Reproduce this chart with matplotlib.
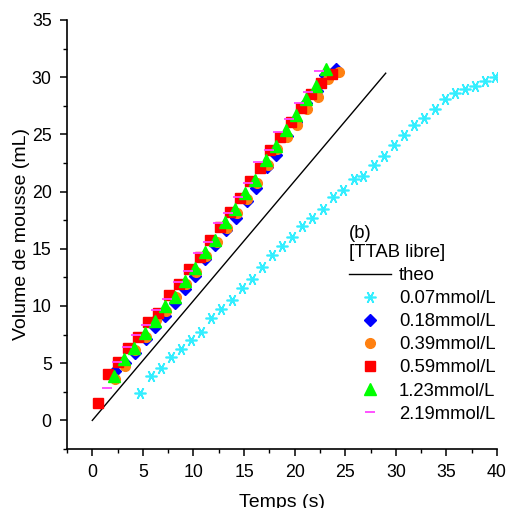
import matplotlib
matplotlib.use("Agg")
import matplotlib.pyplot as plt
from matplotlib.ticker import MultipleLocator

plt.rcParams['font.family'] = ['Liberation Sans', 'DejaVu Sans']

theo_t = [0, 29.0]
theo_v = [0, 30.35]

c007_t = [4.75, 5.77, 6.76, 7.75, 8.74, 9.72, 10.74, 11.77, 12.76, 13.78, 14.80, 15.81,
          16.82, 17.80, 18.79, 19.78, 20.77, 21.76, 22.78, 23.80, 24.79, 25.82, 26.80, 27.82,
          28.81, 29.80, 30.82, 31.81, 32.80, 33.83, 34.82, 35.81, 36.83, 37.84, 38.80, 39.76]
c007_v = [2.42, 3.91, 4.61, 5.57, 6.27, 7.02, 7.76, 8.91, 9.70, 10.51, 11.54, 12.35,
          13.43, 14.45, 15.24, 16.05, 16.99, 17.66, 18.45, 19.55, 20.14, 21.07, 21.36, 22.34,
          23.10, 24.06, 24.93, 25.81, 26.39, 27.21, 28.08, 28.58, 28.93, 29.19, 29.68, 29.98]

c018_t = [2.21, 3.22, 4.18, 5.30, 6.23, 7.22, 8.14, 9.20, 10.19, 11.18, 12.17, 13.20,
          14.24, 15.25, 16.22, 17.31, 18.20, 19.20, 20.18, 21.17, 22.20, 22.98, 24.10]
c018_v = [4.34, 5.05, 5.86, 7.10, 8.13, 9.12, 10.23, 11.45, 12.61, 14.07, 15.32, 16.60,
          17.66, 19.20, 20.28, 22.12, 23.19, 24.90, 26.10, 27.71, 28.80, 30.18, 30.70]

c039_t = [2.27, 3.26, 4.25, 5.34, 6.33, 7.30, 8.31, 9.30, 10.29, 11.28, 12.36, 13.35,
          14.34, 15.33, 16.32, 17.33, 18.30, 19.29, 20.28, 21.27, 22.32, 23.30, 24.36]
c039_v = [3.58, 4.75, 6.15, 7.31, 8.77, 9.60, 10.75, 11.90, 12.99, 14.36, 15.61, 16.78,
          18.09, 19.32, 20.72, 22.30, 23.69, 24.74, 25.81, 27.19, 28.29, 29.81, 30.47]

c059_t = [0.59, 1.54, 2.53, 3.52, 4.52, 5.50, 6.52, 7.55, 8.61, 9.58, 10.61, 11.60,
          12.59, 13.58, 14.60, 15.56, 16.62, 17.61, 18.60, 19.63, 20.63, 21.59, 22.62, 23.67]
c059_v = [1.54, 4.02, 5.12, 6.36, 7.31, 8.64, 9.41, 10.95, 11.93, 13.21, 14.28, 15.76,
          16.92, 18.23, 19.47, 20.93, 22.10, 23.66, 24.77, 26.10, 27.27, 28.55, 29.49, 30.30]

c123_t = [2.18, 3.16, 4.11, 5.16, 6.16, 7.14, 8.14, 9.13, 10.12, 11.11, 12.10, 13.12,
          14.14, 15.14, 16.13, 17.18, 18.17, 19.10, 20.11, 21.08, 22.07, 23.11]
c123_v = [3.85, 5.38, 6.37, 7.65, 8.67, 9.96, 10.80, 12.22, 13.36, 14.72, 15.76, 17.32,
          18.50, 19.88, 21.00, 22.72, 24.02, 25.41, 26.69, 28.13, 29.23, 30.70]

c219_t = [1.48, 2.47, 3.45, 4.35, 5.34, 6.33, 7.42, 8.47, 9.46, 10.45, 11.44, 12.42,
          13.41, 14.40, 15.39, 16.38, 17.44, 18.36, 19.42, 20.41, 21.33, 22.38]
c219_v = [2.85, 5.12, 6.40, 7.46, 8.33, 9.64, 10.58, 12.12, 13.08, 14.60, 15.61, 17.22,
          18.15, 19.55, 20.72, 22.60, 23.63, 25.23, 26.31, 27.71, 28.72, 30.56]

labels = ['theo', '0.07mmol/L', '0.18mmol/L', '0.39mmol/L', '0.59mmol/L', '1.23mmol/L', '2.19mmol/L']

fig = plt.figure(figsize=(5.08, 5.08), dpi=100)
ax = fig.add_axes([67/508, 1 - 449/508, 430/508, 429/508])

ax.plot(theo_t, theo_v, color='black', lw=1.0, label=labels[0])
ax.plot(c007_t, c007_v, ls='none', marker=(6, 2, 90), ms=8.5, mew=1.2,
        color='#33EEFF', label=labels[1])
ax.plot(c018_t, c018_v, ls='none', marker='D', ms=6, color='#0000FF', label=labels[2])
ax.plot(c039_t, c039_v, ls='none', marker='o', ms=7, color='#FF8010', label=labels[3])
ax.plot(c059_t, c059_v, ls='none', marker='s', ms=6.5, color='#FF0000', label=labels[4])
ax.plot(c123_t, c123_v, ls='none', marker='^', ms=8, color='#00FF00', label=labels[5])
ax.plot(c219_t, c219_v, ls='none', marker='_', ms=7, mew=1.3, color='#FF44FF', label=labels[6])

ax.set_xlim(-2.5, 40)
ax.set_ylim(-2.5, 35)
ax.xaxis.set_major_locator(MultipleLocator(5))
ax.xaxis.set_minor_locator(MultipleLocator(2.5))
ax.yaxis.set_major_locator(MultipleLocator(5))
ax.yaxis.set_minor_locator(MultipleLocator(2.5))
for s in ['top', 'right']:
    ax.spines[s].set_visible(False)
for s in ['left', 'bottom']:
    ax.spines[s].set_linewidth(1.2)
ax.tick_params(which='major', direction='out', length=5, width=1.1, labelsize=12.8, pad=6)
ax.tick_params(which='minor', direction='out', length=3, width=1.0)

ax.set_xlabel('Temps (s)', fontsize=14, labelpad=9)
ax.set_ylabel('Volume de mousse (mL)', fontsize=14, labelpad=1)

leg = ax.legend(loc='upper left', bbox_to_anchor=((349 - 67) / 430, (449 - 225) / 429),
                frameon=False, title='(b)\n[TTAB libre]', alignment='left',
                fontsize=13.3, title_fontsize=13.3, borderpad=0, borderaxespad=0,
                handlelength=2.3, handletextpad=0.4, labelspacing=0.33, markerscale=1.0)
leg.get_title().set_linespacing(1.15)

fig.savefig('out.png', dpi=100)
